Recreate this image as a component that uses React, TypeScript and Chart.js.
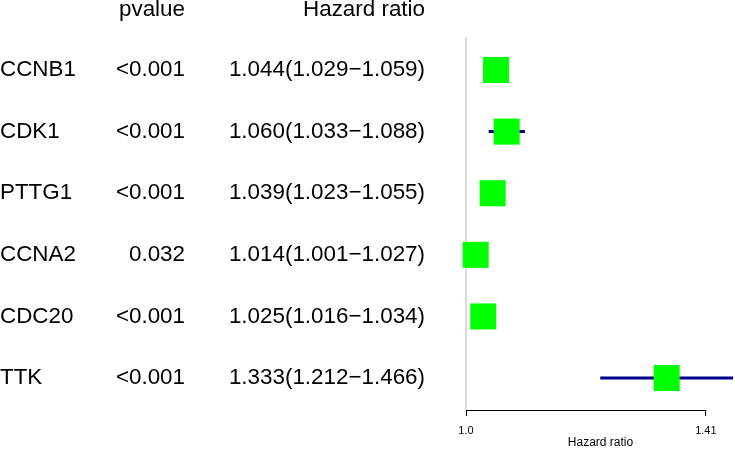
import React, { useEffect, useRef } from "react";
import { Chart, registerables } from "chart.js";

Chart.register(...registerables);

const genes = ["CCNB1", "CDK1", "PTTG1", "CCNA2", "CDC20", "TTK"];
const pvalues = ["<0.001", "<0.001", "<0.001", "0.032", "<0.001", "<0.001"];
const hazard = [1.044, 1.06, 1.039, 1.014, 1.025, 1.333];
const lower = [1.029, 1.033, 1.023, 1.001, 1.016, 1.212];
const upper = [1.059, 1.088, 1.055, 1.027, 1.034, 1.466];
const xTickValues = [1.0, 1.41];
const xTickLabels = ["1.0", "1.41"];
const headers = ["pvalue", "Hazard ratio"];

const FONT = '"Liberation Sans", Arial, sans-serif';

export default function App() {
  const ref = useRef<HTMLCanvasElement>(null);

  useEffect(() => {
    document.body.style.margin = "0";
    const canvas = ref.current;
    if (!canvas) return;

    const forestPlugin = {
      id: "forest",
      beforeDatasetsDraw(chart: any) {
        const { ctx, chartArea, scales } = chart;
        const xs = scales.x;
        const ys = scales.y;
        ctx.save();
        // reference line at HR = 1
        const x1 = xs.getPixelForValue(1);
        ctx.strokeStyle = "#cfcfcf";
        ctx.lineWidth = 1.5;
        ctx.beginPath();
        ctx.moveTo(x1, chartArea.top);
        ctx.lineTo(x1, chartArea.bottom);
        ctx.stroke();
        // CI bars
        ctx.strokeStyle = "#00008B";
        ctx.lineWidth = 3;
        ctx.lineCap = "butt";
        hazard.forEach((_, i) => {
          const y = ys.getPixelForValue(i);
          ctx.beginPath();
          ctx.moveTo(xs.getPixelForValue(lower[i]), y);
          ctx.lineTo(xs.getPixelForValue(upper[i]), y);
          ctx.stroke();
        });
        ctx.restore();
      },
      afterDraw(chart: any) {
        const { ctx, scales } = chart;
        const xs = scales.x;
        const ys = scales.y;
        ctx.save();
        // axis line between first and last tick
        const ay = Math.round(xs.top) + 0.5;
        ctx.strokeStyle = "#000";
        ctx.lineWidth = 1;
        ctx.beginPath();
        ctx.moveTo(Math.round(xs.getPixelForValue(xTickValues[0])) + 0.5, ay);
        ctx.lineTo(Math.round(xs.getPixelForValue(xTickValues[xTickValues.length - 1])) + 0.5, ay);
        ctx.stroke();
        // table text
        ctx.fillStyle = "#000";
        ctx.font = "22.4px " + FONT;
        ctx.textBaseline = "middle";
        const hy = ys.getPixelForValue(-0.97);
        ctx.textAlign = "right";
        ctx.fillText(headers[0], 185, hy);
        ctx.fillText(headers[1], 425, hy);
        genes.forEach((g, i) => {
          const y = ys.getPixelForValue(i);
          ctx.textAlign = "left";
          ctx.fillText(g, 0, y);
          ctx.textAlign = "right";
          ctx.fillText(pvalues[i], 185, y);
          const txt =
            hazard[i].toFixed(3) + "(" + lower[i].toFixed(3) + "\u2212" + upper[i].toFixed(3) + ")";
          ctx.fillText(txt, 425, y);
        });
        ctx.restore();
      },
    };

    const chart = new Chart(canvas, {
      type: "scatter",
      data: {
        datasets: [
          {
            data: hazard.map((v, i) => ({ x: v, y: i })),
            pointStyle: "rect",
            pointRadius: 18.4,
            pointHoverRadius: 18.4,
            backgroundColor: "#00FF00",
            borderWidth: 0,
            clip: false,
          } as any,
        ],
      },
      options: {
        animation: false,
        responsive: false,
        events: [],
        layout: { autoPadding: false, padding: { left: 466, right: 0, top: 37, bottom: 0 } },
        plugins: { legend: { display: false }, tooltip: { enabled: false } },
        scales: {
          x: {
            type: "logarithmic",
            min: 1,
            max: 1.47,
            bounds: "data",
            position: "bottom",
            grid: {
              display: true,
              drawOnChartArea: false,
              drawTicks: true,
              tickLength: 6,
              color: "#000",
              lineWidth: 1,
            },
            border: { display: false },
            ticks: {
              color: "#000",
              font: { family: FONT, size: 11 },
              padding: 8,
              autoSkip: false,
              maxRotation: 0,
              major: { enabled: false },
              callback: (_v: any, idx: number) => xTickLabels[idx],
            },
            afterBuildTicks: (scale: any) => {
              scale.ticks = xTickValues.map((v) => ({ value: v }));
            },
            afterFit: (scale: any) => {
              scale.height = 39;
              scale.paddingLeft = 0;
              scale.paddingRight = 0;
            },
            title: {
              display: true,
              text: "Hazard ratio",
              color: "#000",
              font: { family: FONT, size: 12, lineHeight: 1 },
              padding: { top: 0, bottom: 0 },
            },
          },
          y: {
            type: "linear",
            reverse: true,
            min: -0.536,
            max: 5.519,
            display: false,
          },
        },
      },
      plugins: [forestPlugin],
    } as any);

    return () => chart.destroy();
  }, []);

  return (
    <div style={{ width: 735, height: 449 }}>
      <canvas ref={ref} width={735} height={449} />
    </div>
  );
}
